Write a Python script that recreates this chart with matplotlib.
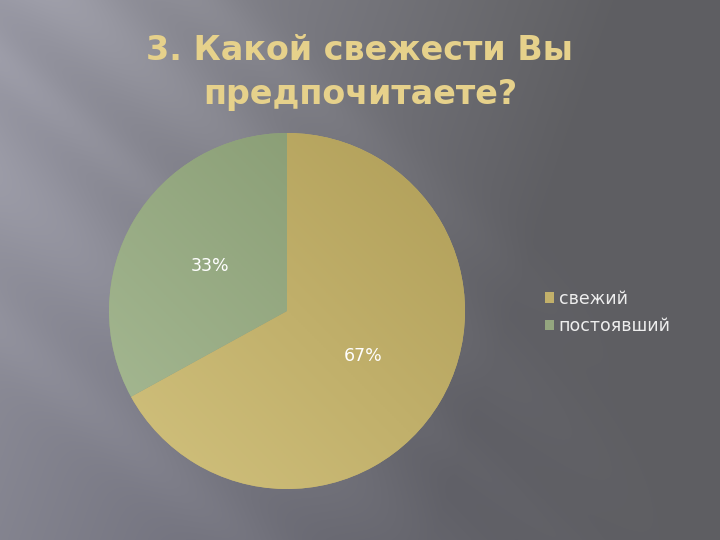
import numpy as np
import matplotlib
matplotlib.use("Agg")
from matplotlib import pyplot as plt
from matplotlib.colors import LinearSegmentedColormap

# chart data
title = "3. Какой свежести Вы\nпредпочитаете?"
labels = ["свежий", "постоявший"]
values = [67, 33]
colors = ["#c2b06a", "#94a67f"]
light = ["#d2c27e", "#a8bb95"]
dark = ["#b09e58", "#82966d"]

fig = plt.figure(figsize=(7.2, 5.4), dpi=100)

# slide background: grey gradient with soft diagonal streaks
bg = fig.add_axes([0, 0, 1, 1])
yy, xx = np.mgrid[0:540, 0:720]
t = np.clip((xx + 0.35 * yy) / 620.0, 0, 1)
lum = 0.58 - 0.21 * t
fade = np.clip(1 - (xx - 0.3 * yy) / 520.0, 0, 1)
for off, w, a in [(-170, 35, 0.06), (-60, 55, 0.07), (60, 30, 0.04), (180, 70, 0.05), (330, 40, 0.03)]:
    d = (yy - 0.85 * xx) - off
    lum = lum + a * np.exp(-(d / w) ** 2) * fade
rgb = np.dstack([lum, lum, lum + 0.03 * fade + 0.015])
bg.imshow(np.clip(rgb, 0, 1), extent=[0, 720, 540, 0], aspect="auto")
bg.set_xlim(0, 720)
bg.set_ylim(540, 0)
bg.axis("off")

fig.text(0.5, 0.866, title, ha="center", va="center", fontsize=24,
         fontweight="bold", color="#e6d18b", linespacing=1.4)

# pie
ax = fig.add_axes([109 / 720, 51 / 540, 356 / 720, 356 / 540])
wedges, texts, autotexts = ax.pie(values, colors=colors, startangle=90,
                                  counterclock=False, autopct="%1.0f%%",
                                  pctdistance=0.5,
                                  textprops=dict(color="white", fontsize=12.5))
ax.set_aspect("equal")

# shading inside each slice: lighter bottom-left, darker top-right
g = np.linspace(0, 1, 200)
grad = np.add.outer(g, g[::-1]) / 2.0
for w, lo, hi in zip(wedges, dark, light):
    cm = LinearSegmentedColormap.from_list("sh", [lo, hi])
    im = ax.imshow(grad, cmap=cm, extent=[-1, 1, -1, 1], origin="upper",
                   zorder=w.get_zorder() + 0.5)
    im.set_clip_path(w)
for t in autotexts:
    t.set_zorder(5)
ax.set_xlim(-1.0, 1.0)
ax.set_ylim(-1.0, 1.0)

leg = fig.legend(wedges, labels, loc="upper left", bbox_to_anchor=(529 / 720, 1 - 274 / 540),
                 frameon=False, fontsize=12.5, handlelength=0.55, handleheight=0.55,
                 handletextpad=0.25, labelspacing=0.55, labelcolor="#eeeeee")

fig.savefig("out.png", dpi=100)
